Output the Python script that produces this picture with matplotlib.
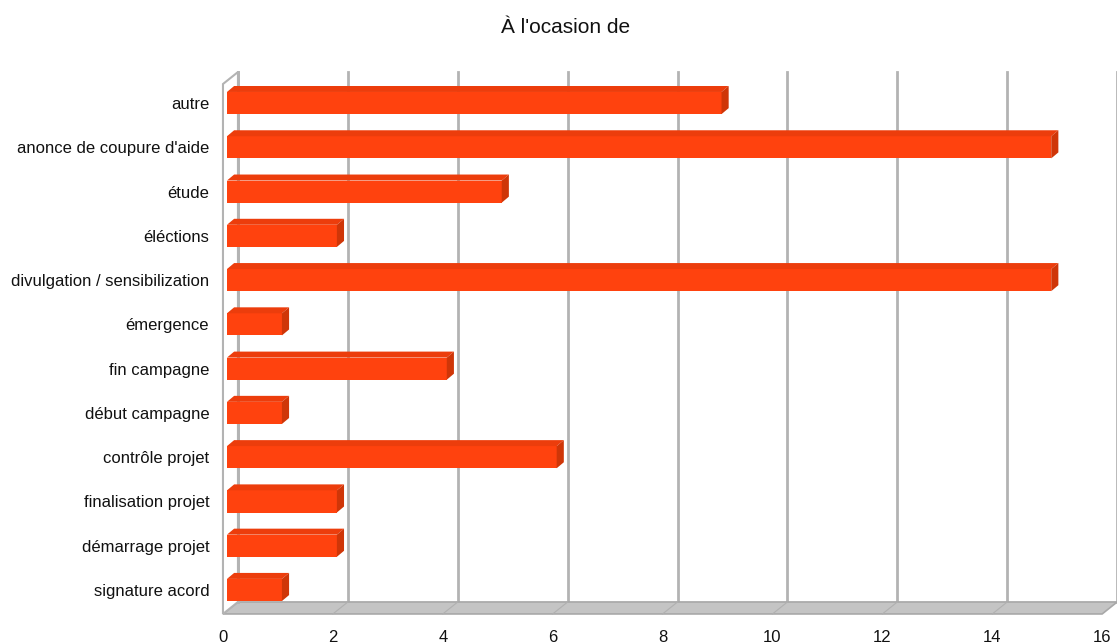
import numpy as np
import matplotlib.pyplot as plt

plt.rcParams['font.family'] = ['Liberation Sans', 'DejaVu Sans']

categories = ["signature acord", "démarrage projet", "finalisation projet",
              "contrôle projet", "début campagne", "fin campagne", "émergence",
              "divulgation / sensibilization", "éléctions", "étude",
              "anonce de coupure d'aide", "autre"]
values = [1, 2, 2, 6, 1, 4, 1, 15, 2, 5, 15, 9]
xticks = [0, 2, 4, 6, 8, 10, 12, 14, 16]
title = "À l'ocasion de"

# 3d look (data units)
DX, DY = 0.273, 0.271          # wall depth
BX0 = 0.073                    # bar front offset
BDX, BDY = 0.13, 0.135         # bar depth
BH = 0.5                       # bar height
YF = -0.542                    # floor front edge
YT = 11.43                     # wall top (front)
XMAX = 16

front = "#FF420E"
top = "#EC3D0C"
side = "#CF3608"
grid = "#B3B3B3"

fig = plt.figure(figsize=(11.17, 6.44), dpi=100)
ax = fig.add_axes([0.1947, 0.0373, 0.8053, 0.857])
ax.set_xlim(-0.1, 16.27)
ax.set_ylim(-0.678, 11.79)

# back wall grid lines
for v in xticks:
    ax.plot([v + DX, v + DX], [YF + DY, YT + DY], color=grid, lw=2, zorder=1)
# floor
ax.fill([0, XMAX, XMAX + DX, DX], [YF, YF, YF + DY, YF + DY],
        facecolor="#C4C4C4", edgecolor="#A8A8A8", lw=1.2, zorder=2)
for v in xticks[1:-1]:
    ax.plot([v, v + DX], [YF, YF + DY], color="#B0B0B0", lw=0.8, zorder=2)
# left wall
ax.fill([0, 0, DX, DX], [YF, YT, YT + DY, YF + DY],
        facecolor="white", edgecolor=grid, lw=1.5, zorder=2)
ax.plot([DX, DX], [YF + DY, YT + DY], color=grid, lw=2, zorder=2)

# bars
for i, v in enumerate(values):
    x0 = BX0
    x1 = BX0 + v
    y0 = i - BH / 2
    y1 = i + BH / 2
    ax.fill([x0, x1, x1, x0], [y0, y0, y1, y1], color=front, lw=0, zorder=3)
    ax.fill([x0, x1, x1 + BDX, x0 + BDX], [y1, y1, y1 + BDY, y1 + BDY],
            color=top, lw=0, zorder=3)
    ax.fill([x1, x1 + BDX, x1 + BDX, x1], [y0, y0 + BDY, y1 + BDY, y1],
            color=side, lw=0, zorder=3)

ax.set_xticks(xticks)
ax.set_xticklabels([str(t) for t in xticks])
ax.set_yticks(range(len(categories)))
ax.set_yticklabels(categories)
ax.tick_params(length=0, labelsize=12, labelcolor="#111111")
ax.tick_params(axis='x', pad=7)
ax.tick_params(axis='y', pad=6)
for s in ax.spines.values():
    s.set_visible(False)

fig.text(0.506, 0.949, title, ha="center", va="baseline", fontsize=15,
         color="#111111")

fig.savefig("out.png", dpi=100)
